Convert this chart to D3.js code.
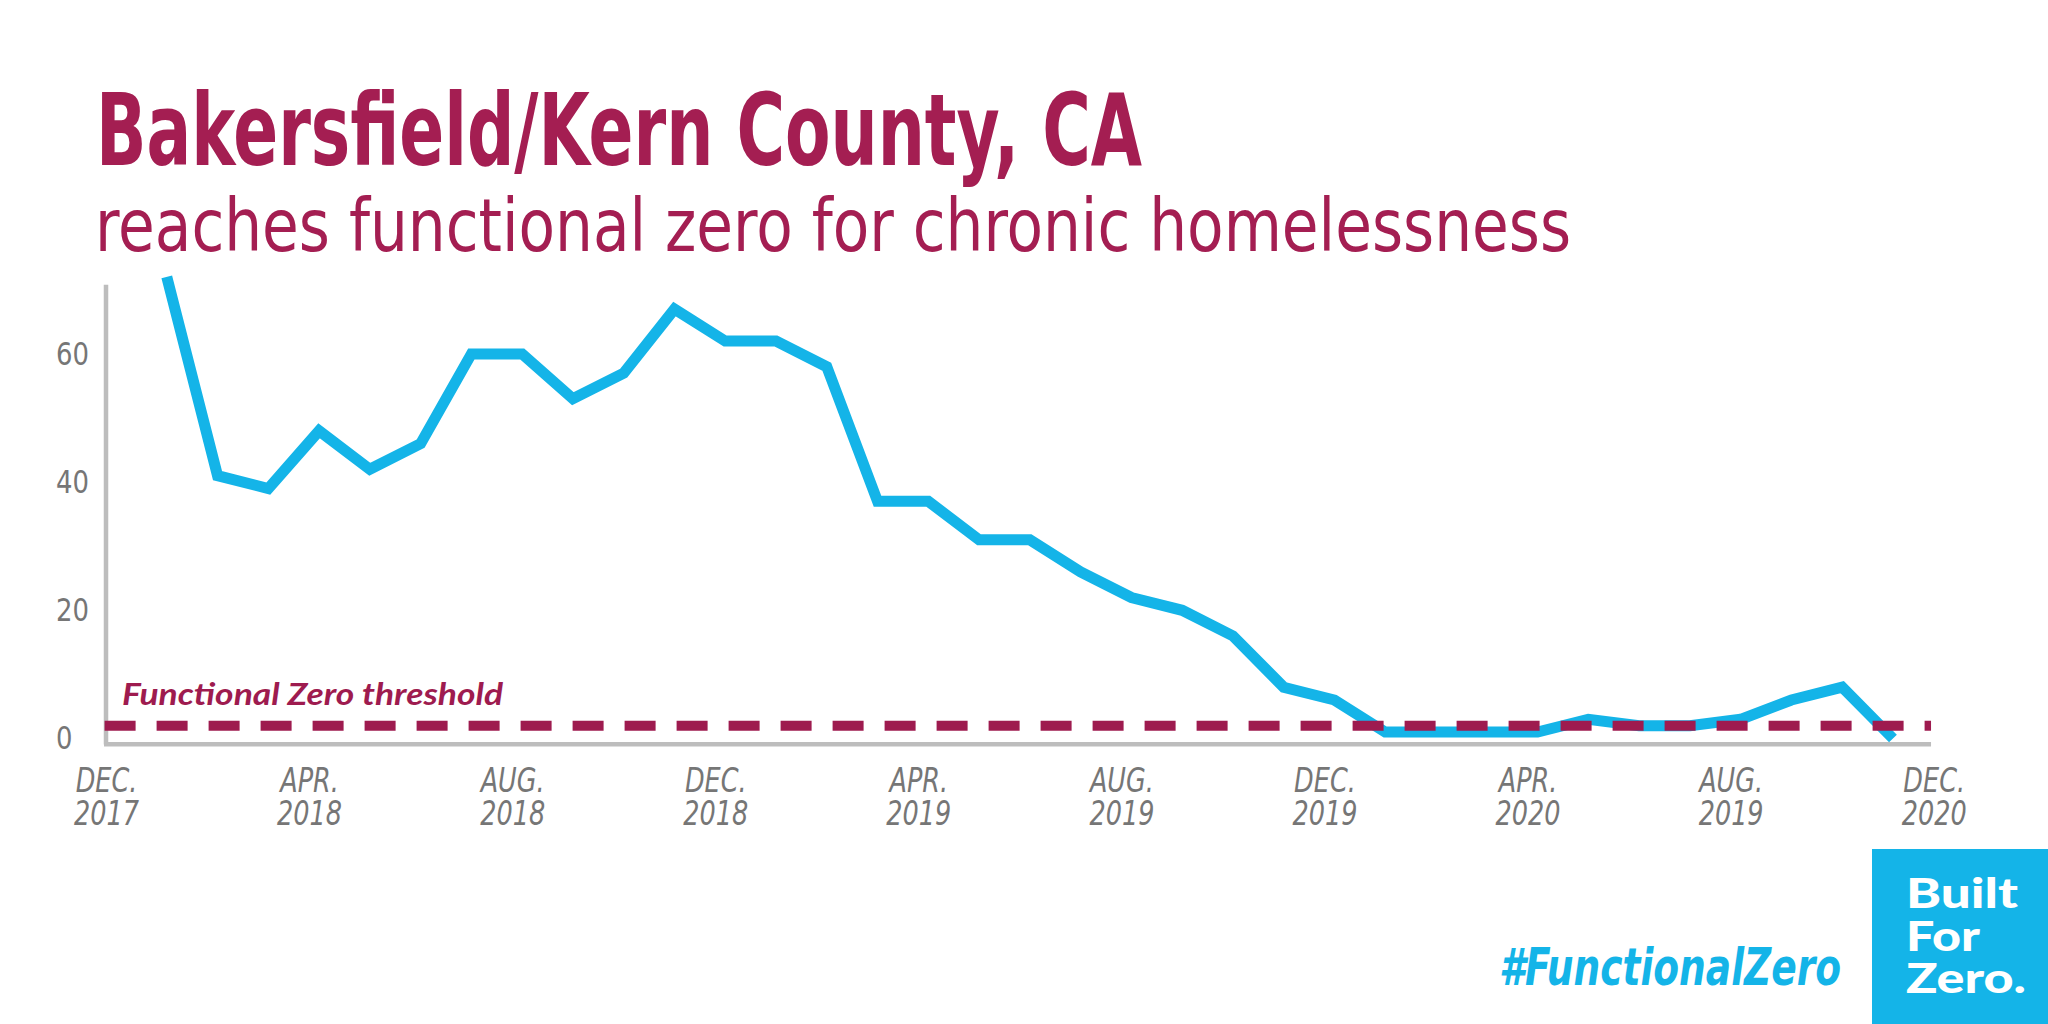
<!DOCTYPE html>
<html>
<head>
<meta charset="utf-8">
<script src="https://cdn.jsdelivr.net/npm/d3@7"></script>
<style>
	body { margin: 0; background: #fff; }
</style>
</head>
<body>
<div id="chart"></div>
<script>
// monthly counts, Jan 2018 .. Nov 2020 (month index 1..35, Dec 2017 = 0)
const months = ['JAN 2018','FEB 2018','MAR 2018','APR 2018','MAY 2018','JUN 2018',
	'JUL 2018','AUG 2018','SEP 2018','OCT 2018','NOV 2018','DEC 2018',
	'JAN 2019','FEB 2019','MAR 2019','APR 2019','MAY 2019','JUN 2019',
	'JUL 2019','AUG 2019','SEP 2019','OCT 2019','NOV 2019','DEC 2019',
	'JAN 2020','FEB 2020','MAR 2020','APR 2020','MAY 2020','JUN 2020',
	'JUL 2020','AUG 2020','SEP 2020','OCT 2020','NOV 2020']
const counts = [72, 41, 39, 48, 42, 46,
	60, 60, 53, 57, 67, 62,
	62, 58, 37, 37, 31, 31,
	26, 22, 20, 16, 8, 6,
	1, 1, 1, 1, 3, 2,
	2, 3, 6, 8, 0]
const threshold = 2

const tickMonths = [0, 4, 8, 12, 16, 20, 24, 28, 32, 36]
const tickLabels = [['DEC.','2017'],['APR.','2018'],['AUG.','2018'],['DEC.','2018'],
	['APR.','2019'],['AUG.','2019'],['DEC.','2019'],['APR.','2020'],
	['AUG.','2019'],['DEC.','2020']]
const yTicks = [0, 20, 40, 60]

const title = 'Bakersfield/Kern County, CA'
const subtitle = 'reaches functional zero for chronic homelessness'
const thresholdLabel = 'Functional Zero threshold'
const hashtag = '#FunctionalZero'
const logoLines = ['Built', 'For', 'Zero.']

const W = 2048, H = 1024
const crimson = '#a41e52'
const blue = '#14b4e8'
const grey = '#767676'
const narrow = '"Liberation Sans Narrow", "DejaVu Sans Condensed", sans-serif'

const svg = d3.select('#chart').append('svg')
	.attr('width', W)
	.attr('height', H)

// *** scales ***
const x = d3.scaleLinear().domain([0, 36]).range([116, 116 + 36 * 50.77])
const y = d3.scaleLinear().domain([0, 60]).range([738.5, 738.5 - 60 * 6.41])

// *** titles ***
svg.append('text')
	.attr('x', 96).attr('y', 165)
	.attr('textLength', 1046).attr('lengthAdjust', 'spacingAndGlyphs')
	.style('font-family', narrow).style('font-weight', 'bold')
	.style('font-size', '100px').style('fill', crimson)
	.text(title)

svg.append('text')
	.attr('x', 95).attr('y', 251)
	.attr('textLength', 1476).attr('lengthAdjust', 'spacingAndGlyphs')
	.style('font-family', narrow)
	.style('font-size', '73px').style('fill', crimson)
	.text(subtitle)

// *** axes ***
svg.append('line')
	.attr('x1', 106).attr('x2', 106)
	.attr('y1', y(70.8)).attr('y2', y(-0.95))
	.style('stroke', '#bdbdbd').style('stroke-width', 4.5)

svg.append('line')
	.attr('x1', 104).attr('x2', x(35.75))
	.attr('y1', y(-0.9)).attr('y2', y(-0.9))
	.style('stroke', '#bdbdbd').style('stroke-width', 4.5)

// y labels are left aligned, so an axisRight placed left of the plot
const yAxis = svg.append('g')
	.attr('transform', 'translate(56,0)')
	.call(d3.axisRight(y).tickValues(yTicks).tickSize(0).tickPadding(0))
yAxis.select('.domain').remove()
yAxis.selectAll('text')
	.attr('transform', 'scale(0.9,1)')
	.style('font-family', narrow).style('font-size', '32px').style('fill', grey)

const sx = 0.86
const xAxis = svg.append('g')
	.attr('transform', `translate(0,${y(-0.9)})`)
	.call(d3.axisBottom(x).tickValues(tickMonths).tickSize(0))
xAxis.select('.domain').remove()
xAxis.selectAll('text').each(function(d, i) {
	let t = d3.select(this).text(null)
		.attr('y', 0).attr('dy', null)
		.attr('transform', `scale(${sx},1)`)
	t.append('tspan').attr('x', -10 / sx).attr('y', 48).text(tickLabels[i][0])
	t.append('tspan').attr('x', -10 / sx).attr('y', 81).text(tickLabels[i][1])
})
xAxis.selectAll('text')
	.style('font-family', narrow).style('font-style', 'italic')
	.style('font-size', '33px').style('fill', grey)

// *** curve ***
const line = d3.line()
	.x((d, i) => x(i + 1))
	.y(d => y(d))

svg.append('path')
	.attr('d', line(counts))
	.style('fill', 'none')
	.style('stroke', blue)
	.style('stroke-width', 11)
	.style('stroke-linejoin', 'miter')

// *** threshold ***
svg.append('line')
	.attr('x1', 104.6).attr('x2', x(35.75))
	.attr('y1', y(threshold)).attr('y2', y(threshold))
	.style('stroke', '#9e1b4f').style('stroke-width', 10)
	.style('stroke-dasharray', '31 21')

svg.append('text')
	.attr('x', 122).attr('y', 705)
	.attr('textLength', 381).attr('lengthAdjust', 'spacingAndGlyphs')
	.style('font-family', 'Lato, "Open Sans", sans-serif')
	.style('font-weight', 'bold').style('font-style', 'italic')
	.style('font-size', '31px').style('fill', '#9e1b4f')
	.text(thresholdLabel)

// *** footer ***
svg.append('text')
	.attr('x', 1499).attr('y', 985)
	.attr('textLength', 342).attr('lengthAdjust', 'spacingAndGlyphs')
	.style('font-family', narrow)
	.style('font-weight', 'bold').style('font-style', 'italic')
	.style('font-size', '52px').style('fill', blue)
	.text(hashtag)

svg.append('rect')
	.attr('x', 1872).attr('y', 849)
	.attr('width', W - 1872).attr('height', H - 849)
	.style('fill', blue)

const logoBase = [908, 951, 993]
const logoWidth = [112, 74, 120]
svg.selectAll('.logo')
	.data(logoLines)
	.enter().append('text')
	.attr('class', 'logo')
	.attr('x', 1906)
	.attr('y', (d, i) => logoBase[i])
	.attr('textLength', (d, i) => logoWidth[i])
	.attr('lengthAdjust', 'spacingAndGlyphs')
	.style('font-family', 'Lato, "Open Sans", sans-serif')
	.style('font-weight', 900)
	.style('font-size', '41px').style('fill', '#fff')
	.text(d => d)
</script>
</body>
</html>
